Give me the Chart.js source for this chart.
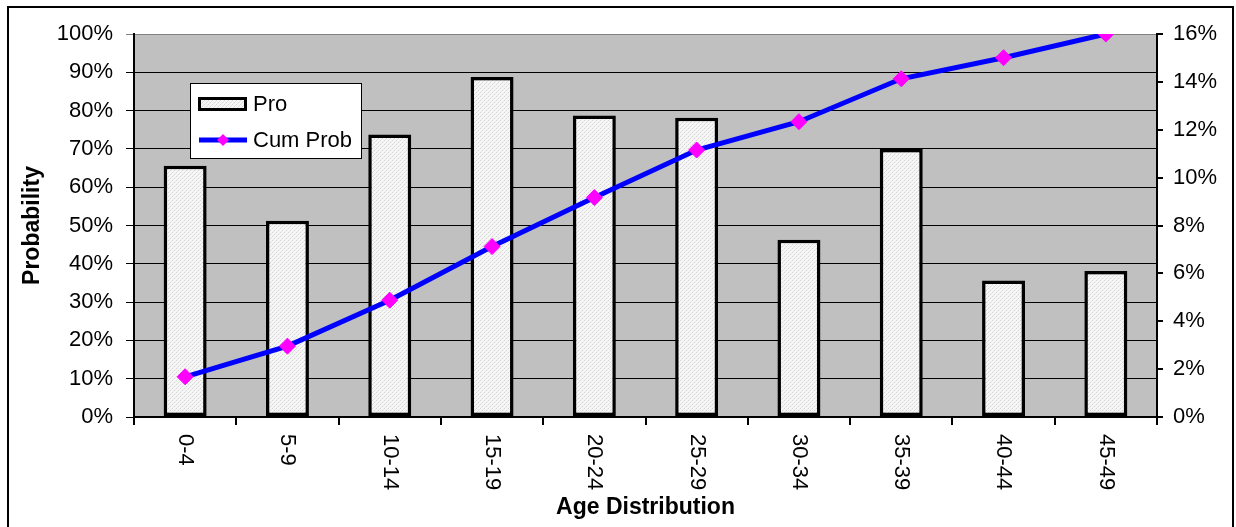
<!DOCTYPE html>
<html>
<head>
<meta charset="utf-8">
<script src="https://cdn.jsdelivr.net/npm/chart.js@4/dist/chart.umd.min.js"></script>
<style>
  html, body { margin: 0; padding: 0; background: #fff; }
  canvas { display: block; }
</style>
</head>
<body>
<canvas id="ageChart" width="1236" height="527"></canvas>
<script>
const ageGroups = ["0-4", "5-9", "10-14", "15-19", "20-24", "25-29", "30-34", "35-39", "40-44", "45-49"];
// share of each age group (right axis, %)
const proValues = [10.5, 8.2, 11.8, 14.2, 12.6, 12.5, 7.4, 11.2, 5.7, 6.1];
// cumulative probability (left axis, %)
const cumValues = [10.5, 18.5, 30.5, 44.5, 57.3, 69.7, 77.1, 88.3, 93.8, 100];
const leftTicks = [0, 10, 20, 30, 40, 50, 60, 70, 80, 90, 100];
const rightTicks = [0, 2, 4, 6, 8, 10, 12, 14, 16];

const FONT = "Arial, 'Liberation Sans', sans-serif";

// dotted light fill like the excel pattern
function makePattern() {
  const c = document.createElement("canvas");
  c.width = 4; c.height = 4;
  const g = c.getContext("2d");
  g.fillStyle = "#f6f6f6";
  g.fillRect(0, 0, 4, 4);
  g.fillStyle = "#d4d4d4";
  g.fillRect(0, 0, 1, 1);
  g.fillRect(2, 2, 1, 1);
  g.fillStyle = "#e6e6e6";
  g.fillRect(1, 3, 1, 1);
  g.fillRect(3, 1, 1, 1);
  return g.createPattern(c, "repeat");
}
const barFill = makePattern();

const frame = {
  id: "frame",
  beforeDraw(chart) {
    const { ctx, chartArea: a } = chart;
    ctx.save();
    ctx.fillStyle = "#fff";
    ctx.fillRect(0, 0, chart.width, chart.height);
    ctx.strokeStyle = "#000";
    ctx.lineWidth = 2;
    ctx.beginPath();
    ctx.moveTo(8, 530);
    ctx.lineTo(8, 7);
    ctx.lineTo(1233, 7);
    ctx.lineTo(1233, 530);
    ctx.stroke();
    ctx.fillStyle = "#c0c0c0";
    ctx.fillRect(a.left, a.top, a.right - a.left, a.bottom - a.top);
    ctx.restore();
  },
  afterDraw(chart) {
    const { ctx } = chart;
    const xs = chart.scales.x;
    ctx.save();
    // rotated category labels, reading top to bottom
    ctx.fillStyle = "#000";
    ctx.font = "22px " + FONT;
    ctx.textAlign = "left";
    ctx.textBaseline = "middle";
    ageGroups.forEach((lab, i) => {
      ctx.save();
      ctx.translate(xs.getPixelForValue(i), 434);
      ctx.rotate(Math.PI / 2);
      ctx.fillText(lab, 0, 0);
      ctx.restore();
    });

    // legend box
    ctx.fillStyle = "#fff";
    ctx.fillRect(190, 83, 171, 75);
    ctx.strokeStyle = "#000";
    ctx.lineWidth = 1;
    ctx.strokeRect(190.5, 83.5, 171, 75);

    ctx.fillStyle = barFill;
    ctx.fillRect(198, 97, 49, 14);
    ctx.lineWidth = 3;
    ctx.strokeRect(199.5, 98.5, 46, 11);

    ctx.strokeStyle = "#0000ff";
    ctx.lineWidth = 5;
    ctx.beginPath();
    ctx.moveTo(199, 140);
    ctx.lineTo(247, 140);
    ctx.stroke();
    ctx.fillStyle = "#ff00ff";
    ctx.beginPath();
    ctx.moveTo(223, 134);
    ctx.lineTo(229, 140);
    ctx.lineTo(223, 146);
    ctx.lineTo(217, 140);
    ctx.closePath();
    ctx.fill();

    ctx.fillStyle = "#000";
    ctx.font = "22px " + FONT;
    ctx.textAlign = "left";
    ctx.textBaseline = "middle";
    ctx.fillText(chart.data.datasets[0].label, 253, 105);
    ctx.fillText(chart.data.datasets[1].label, 253, 141);
    ctx.restore();
  }
};

new Chart(document.getElementById("ageChart"), {
  type: "bar",
  data: {
    labels: ageGroups,
    datasets: [
      {
        type: "bar",
        label: "Pro",
        data: proValues,
        yAxisID: "y2",
        backgroundColor: barFill,
        borderColor: "#000",
        borderWidth: 3.5,
        borderSkipped: false,
        barPercentage: 0.42,
        categoryPercentage: 1,
        order: 2
      },
      {
        type: "line",
        label: "Cum Prob",
        data: cumValues,
        yAxisID: "y",
        borderColor: "#0000ff",
        borderWidth: 5,
        tension: 0,
        pointStyle: "rectRot",
        pointRadius: 8,
        pointBorderWidth: 1,
        pointBackgroundColor: "#ff00ff",
        pointBorderColor: "#ff00ff",
        order: 1
      }
    ]
  },
  options: {
    responsive: false,
    animation: false,
    layout: { padding: { top: 34, left: 0, right: 0, bottom: 0 } },
    plugins: {
      legend: { display: false },
      tooltip: { enabled: false }
    },
    scales: {
      x: {
        offset: true,
        grid: { offset: true, drawOnChartArea: false, color: "#000", lineWidth: 2, tickLength: 8 },
        border: { color: "#000", width: 2 },
        ticks: { display: false },
        title: {
          display: true,
          text: "Age Distribution",
          color: "#000",
          font: { family: FONT, size: 23, weight: "bold" },
          padding: { top: 0, bottom: 6 }
        },
        afterFit: (s) => { s.height = 110; }
      },
      y: {
        position: "left",
        min: 0,
        max: 100,
        afterBuildTicks: (s) => { s.ticks = leftTicks.map(v => ({ value: v })); },
        grid: {
          color: (c) => (c.tick && c.tick.value === 100 ? "#808080" : "#000"),
          lineWidth: 1,
          tickLength: 8
        },
        border: { color: "#000", width: 2 },
        ticks: {
          color: "#000",
          padding: 13,
          font: { family: FONT, size: 22 },
          callback: (v) => v + "%"
        },
        title: {
          display: true,
          text: "Probability",
          color: "#000",
          font: { family: FONT, size: 23, weight: "bold" },
          padding: { top: 19, bottom: 0 }
        },
        afterFit: (s) => { s.width = 134; }
      },
      y2: {
        position: "right",
        min: 0,
        max: 16,
        afterBuildTicks: (s) => { s.ticks = rightTicks.map(v => ({ value: v })); },
        grid: { drawOnChartArea: false, color: "#000", lineWidth: 2, tickLength: 6 },
        border: { color: "#000", width: 2 },
        ticks: {
          color: "#000",
          padding: 10,
          font: { family: FONT, size: 22 },
          callback: (v) => v + "%"
        },
        afterFit: (s) => { s.width = 79; }
      }
    }
  },
  plugins: [frame]
});
</script>
</body>
</html>
